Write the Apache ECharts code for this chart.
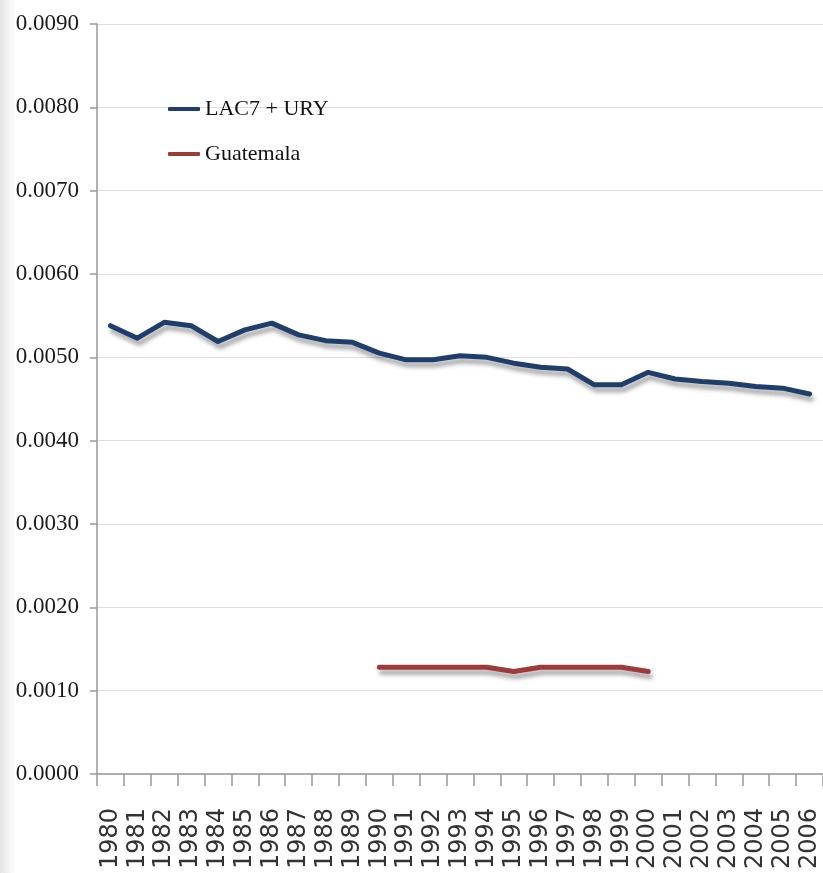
<!DOCTYPE html>
<html>
<head>
<meta charset="utf-8">
<script src="https://cdn.jsdelivr.net/npm/echarts@6/dist/echarts.min.js"></script>
<style>html,body{margin:0;padding:0;background:#fff;}#chart{width:823px;height:873px;}</style>
</head>
<body>
<div id="chart"></div>
<script>
const years = ['1980','1981','1982','1983','1984','1985','1986','1987','1988','1989','1990','1991','1992','1993','1994','1995','1996','1997','1998','1999','2000','2001','2002','2003','2004','2005','2006'];
const lac7Ury = [0.00538,0.00523,0.00542,0.00538,0.00519,0.00533,0.00541,0.00527,0.00520,0.00518,0.00505,0.00497,0.00497,0.00502,0.00500,0.00493,0.00488,0.00486,0.00467,0.00467,0.00482,0.00474,0.00471,0.00469,0.00465,0.00463,0.00456];
const guatemala = [null,null,null,null,null,null,null,null,null,null,0.00128,0.00128,0.00128,0.00128,0.00128,0.00123,0.00128,0.00128,0.00128,0.00128,0.00123,null,null,null,null,null,null];
const seriesNames = ['LAC7 + URY','Guatemala'];

const chart = echarts.init(document.getElementById('chart'));
const shadow = {shadowColor:'rgba(0,0,0,0.35)', shadowBlur:4, shadowOffsetX:2, shadowOffsetY:5};
chart.setOption({
  animation:false,
  backgroundColor:'#ffffff',
  graphic:[{
    type:'rect', left:0, top:0, silent:true, z:-10,
    shape:{width:16, height:873},
    style:{fill:new echarts.graphic.LinearGradient(0,0,1,0,[{offset:0,color:'#e4e4e4'},{offset:1,color:'#ffffff'}])}
  }],
  grid:{left:97, top:24, width:729, height:750, containLabel:false},
  legend:{
    orient:'vertical', left:163, top:92, itemGap:21, itemWidth:32, itemHeight:4,
    icon:'roundRect', itemTextGap:5,
    textStyle:{fontFamily:'Liberation Serif', fontSize:22, color:'#111', lineHeight:24},
    data:seriesNames
  },
  xAxis:{
    type:'category', data:years, boundaryGap:true,
    axisLine:{lineStyle:{color:'#999999', width:1.5}},
    axisTick:{show:true, length:12, alignWithLabel:false, lineStyle:{color:'#999999', width:1.5}},
    axisLabel:{rotate:90, interval:0, margin:34, fontFamily:'DejaVu Sans', fontSize:24, color:'#333'},
    splitLine:{show:false}
  },
  yAxis:{
    type:'value', min:0, max:0.009, interval:0.001,
    axisLine:{show:true, lineStyle:{color:'#999999', width:1.5}},
    axisTick:{show:true, length:7, lineStyle:{color:'#999999', width:1.5}},
    axisLabel:{margin:18, fontFamily:'Liberation Serif', fontSize:23, color:'#1a1a1a', formatter:v=>v.toFixed(4)},
    splitLine:{show:true, lineStyle:{color:'#dedede', width:1}}
  },
  series:[
    {name:seriesNames[0], type:'line', data:lac7Ury, symbol:'none', smooth:false,
     itemStyle:{color:'#1f3e6c'}, lineStyle:Object.assign({color:'#1f3e6c', width:5, cap:'round', join:'round'}, shadow)},
    {name:seriesNames[1], type:'line', data:guatemala, symbol:'none', connectNulls:false,
     itemStyle:{color:'#9e3a3a'}, lineStyle:Object.assign({color:'#9e3a3a', width:5, cap:'round', join:'round'}, shadow)}
  ]
});
</script>
</body>
</html>
